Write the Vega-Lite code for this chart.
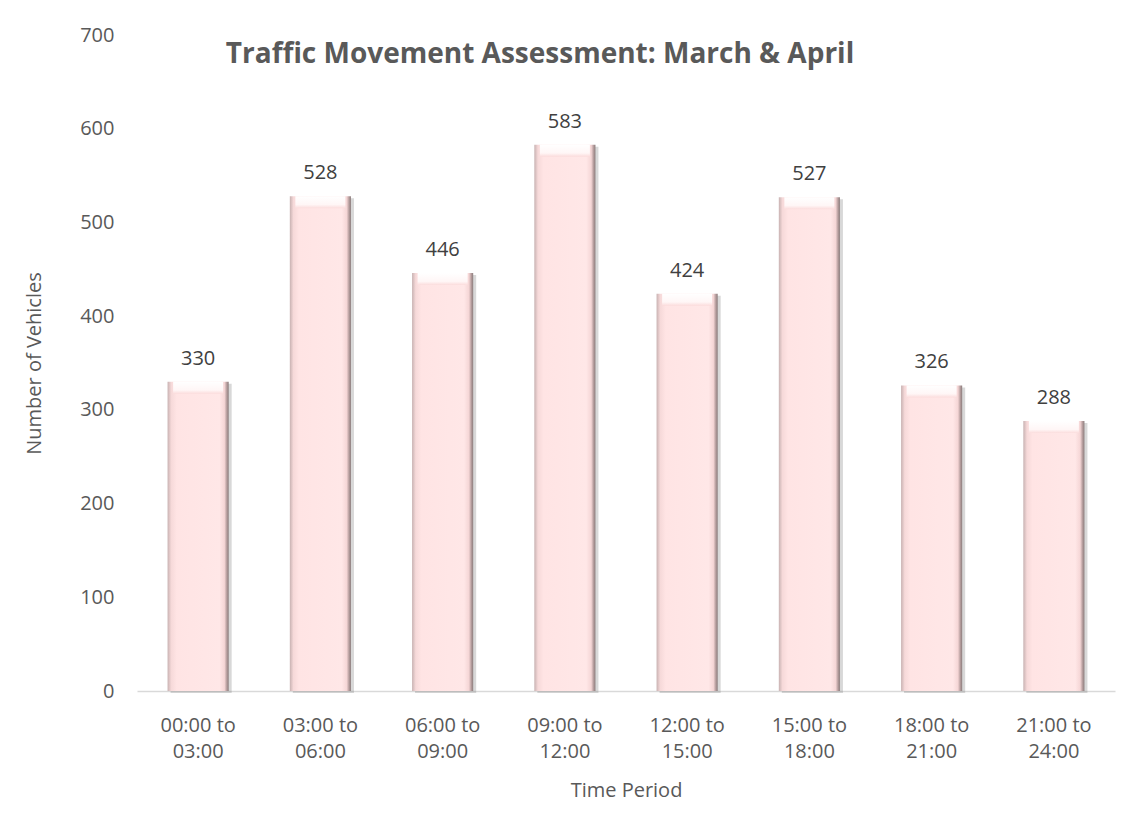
{
  "$schema": "https://vega.github.io/schema/vega-lite/v6.json",
  "width": 978,
  "height": 656,
  "autosize": {"type": "none"},
  "padding": {"left": 137, "top": 35, "right": 20, "bottom": 140},
  "background": "white",
  "config": {"view": {"stroke": null}, "font": "Open Sans"},
  "title": {
    "text": "Traffic Movement Assessment: March & April",
    "font": "Open Sans",
    "fontSize": 28,
    "fontWeight": "bold",
    "color": "#595959",
    "anchor": "middle",
    "dx": -86,
    "offset": -44
  },
  "data": {
    "values": [
      {"period": "00:00 to 03:00", "vehicles": 330},
      {"period": "03:00 to 06:00", "vehicles": 528},
      {"period": "06:00 to 09:00", "vehicles": 446},
      {"period": "09:00 to 12:00", "vehicles": 583},
      {"period": "12:00 to 15:00", "vehicles": 424},
      {"period": "15:00 to 18:00", "vehicles": 527},
      {"period": "18:00 to 21:00", "vehicles": 326},
      {"period": "21:00 to 24:00", "vehicles": 288}
    ]
  },
  "encoding": {
    "x": {
      "field": "period",
      "type": "nominal",
      "sort": null,
      "scale": {"paddingInner": 0.5, "paddingOuter": 0.25},
      "axis": {
        "title": "Time Period",
        "titleFont": "Open Sans",
        "titleFontSize": 20,
        "titleFontWeight": "normal",
        "titleColor": "#595959",
        "titlePadding": 19,
        "labelAngle": 0,
        "labelFont": "Open Sans",
        "labelFontSize": 20,
        "labelColor": "#595959",
        "labelLineHeight": 26,
        "labelPadding": 24,
        "labelExpr": "[substring(datum.label, 0, 8), substring(datum.label, 9)]",
        "ticks": false,
        "domainColor": "#d9d9d9",
        "domainWidth": 1.5
      }
    },
    "y": {
      "field": "vehicles",
      "type": "quantitative",
      "scale": {"domain": [0, 700]},
      "axis": {
        "title": "Number of Vehicles",
        "titleFont": "Open Sans",
        "titleFontSize": 20,
        "titleFontWeight": "normal",
        "titleColor": "#595959",
        "titlePadding": 35,
        "values": [0, 100, 200, 300, 400, 500, 600, 700],
        "labelFont": "Open Sans",
        "labelFontSize": 20,
        "labelColor": "#595959",
        "labelPadding": 23,
        "ticks": false,
        "domain": false,
        "grid": false
      }
    }
  },
  "layer": [
    {
      "mark": {"type": "bar", "color": "#7f7f7f", "opacity": 0.3, "xOffset": 3, "yOffset": 2}
    },
    {
      "mark": {
        "type": "bar",
        "color": {
          "gradient": "linear",
          "x1": 0, "y1": 0, "x2": 1, "y2": 0,
          "stops": [
            {"offset": 0, "color": "#c8b2b2"},
            {"offset": 0.06, "color": "#f6d9d9"},
            {"offset": 0.15, "color": "#ffe4e4"},
            {"offset": 0.85, "color": "#ffe7e7"},
            {"offset": 0.93, "color": "#f5d6d6"},
            {"offset": 0.97, "color": "#b39b9b"},
            {"offset": 1, "color": "#8a7c7c"}
          ]
        }
      }
    },
    {
      "mark": {
        "type": "bar",
        "y2Offset": 12,
        "color": {
          "gradient": "linear",
          "x1": 0, "y1": 0, "x2": 0, "y2": 1,
          "stops": [
            {"offset": 0, "color": "#ffffff"},
            {"offset": 0.7, "color": "#fff6f6"},
            {"offset": 1, "color": "#fbdcdc"}
          ]
        },
        "width": 50
      },
      "encoding": {"y2": {"field": "vehicles"}}
    },
    {
      "mark": {"type": "text", "font": "Open Sans", "fontSize": 20, "color": "#404040", "baseline": "alphabetic", "dy": -17},
      "encoding": {"text": {"field": "vehicles", "type": "quantitative"}}
    }
  ]
}
